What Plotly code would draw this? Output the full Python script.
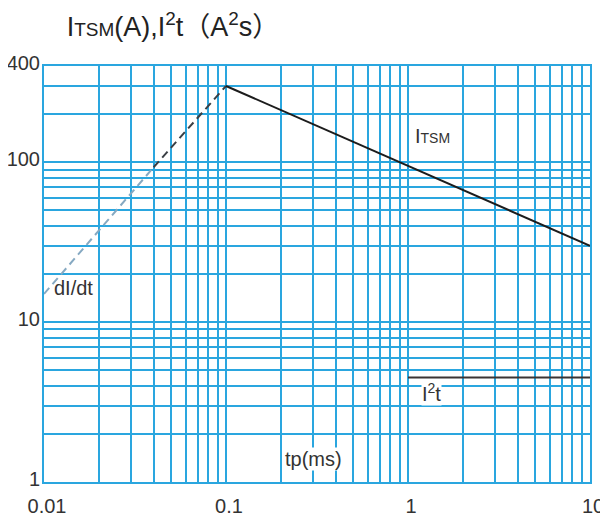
import math
import plotly.graph_objects as go

# ---- data ----
itsm_t = [0.1, 10]          # tp (ms)
itsm_i = [300, 30]          # I_TSM (A)

didt_t_light = [0.01, 0.04]
didt_i_light = [15, 93]
didt_t_dark = [0.04, 0.1]
didt_i_dark = [93, 300]

i2t_t = [1, 10]
i2t_v = [4.5, 4.5]

x_major = [0.01, 0.1, 1, 10]
x_major_labels = ["0.01", "0.1", "1", "10"]
y_major = [1, 10, 100, 400]
y_major_labels = ["1", "10", "100", "400"]

# grid positions (log minor grid)
x_grid = [m * 10 ** e for e in (-2, -1, 0) for m in range(1, 10)] + [10]
y_grid = [m * 10 ** e for e in (0, 1) for m in range(1, 10)] + [100, 200, 300, 400]

GRID = "#2aa6df"
FONT = "Arial, Liberation Sans, Noto Sans CJK SC, sans-serif"
TXT = "#333333"

x_text = [x_major_labels[x_major.index(v)] if v in x_major else "" for v in x_grid]
y_text = [y_major_labels[y_major.index(v)] if v in y_major else "" for v in y_grid]

fig = go.Figure()
fig.add_trace(go.Scatter(x=didt_t_light, y=didt_i_light, mode="lines",
                         line=dict(color="#86a9c2", width=2, dash="8px,5px"),
                         showlegend=False, hoverinfo="skip"))
fig.add_trace(go.Scatter(x=didt_t_dark, y=didt_i_dark, mode="lines",
                         line=dict(color="#3a3f44", width=2, dash="8px,5px"),
                         showlegend=False, hoverinfo="skip"))
fig.add_trace(go.Scatter(x=itsm_t, y=itsm_i, mode="lines",
                         line=dict(color="#1c1c1c", width=2),
                         showlegend=False, hoverinfo="skip"))
fig.add_trace(go.Scatter(x=i2t_t, y=i2t_v, mode="lines",
                         line=dict(color="#3b3535", width=2),
                         showlegend=False, hoverinfo="skip"))

# page body margin (8px) offsets everything; work in screenshot pixels
OFF = 8
W, H = 608 - OFF, 517 - OFF
L, R, T, B = 44 - OFF, 590 - OFF, 66 - OFF, 482 - OFF


def px(xp, yp):
    xp -= OFF
    yp -= OFF
    return (xp - L) / (R - L), (B - yp) / (B - T)


def label(text, xp, yp, bg=None):
    ax, ay = px(xp, yp)
    fig.add_annotation(text=text, x=ax, y=ay, xref="paper", yref="paper",
                       showarrow=False, xanchor="center", yanchor="middle",
                       font=dict(family=FONT, size=20, color=TXT),
                       bgcolor=bg, borderpad=0)


label('I<span style="font-size:14px">TSM</span>', 432, 136)
label("I<sup>2</sup>t", 431, 392, bg="white")
label("tp(ms)", 313, 459, bg="white")
label("dI/dt", 73, 288)

fig.update_layout(
    width=W, height=H,
    margin=dict(l=L, r=W - R, t=T, b=H - B, autoexpand=False),
    paper_bgcolor="white", plot_bgcolor="white",
    font=dict(family=FONT, size=20, color=TXT),
    title=dict(text='I<span style="font-size:19px">TSM</span>(A),I<sup>2</sup>t（A<sup>2</sup>s）',
               x=(173 - OFF) / W, y=1 - (27 - OFF) / H, xanchor="center", yanchor="middle",
               font=dict(family=FONT, size=27, color="#222222")),
)
fig.update_xaxes(type="log", range=[math.log10(0.01), math.log10(10)],
                 tickmode="array", tickvals=x_grid, ticktext=x_text,
                 showgrid=True, gridcolor=GRID, gridwidth=2,
                 showline=True, linecolor=GRID, linewidth=2, mirror=True,
                 ticks="", zeroline=False, automargin=False,
                 ticklabelshift=3, ticklabelstandoff=5,
                 tickfont=dict(family=FONT, size=20, color=TXT))
fig.update_yaxes(type="log", range=[0, math.log10(400)],
                 tickmode="array", tickvals=y_grid, ticktext=y_text,
                 showgrid=True, gridcolor=GRID, gridwidth=2,
                 showline=True, linecolor=GRID, linewidth=2, mirror=True,
                 ticks="", zeroline=False, automargin=False,
                 ticklabelshift=-3, ticklabelstandoff=-2,
                 tickfont=dict(family=FONT, size=20, color=TXT))

fig.write_html("out.html")
